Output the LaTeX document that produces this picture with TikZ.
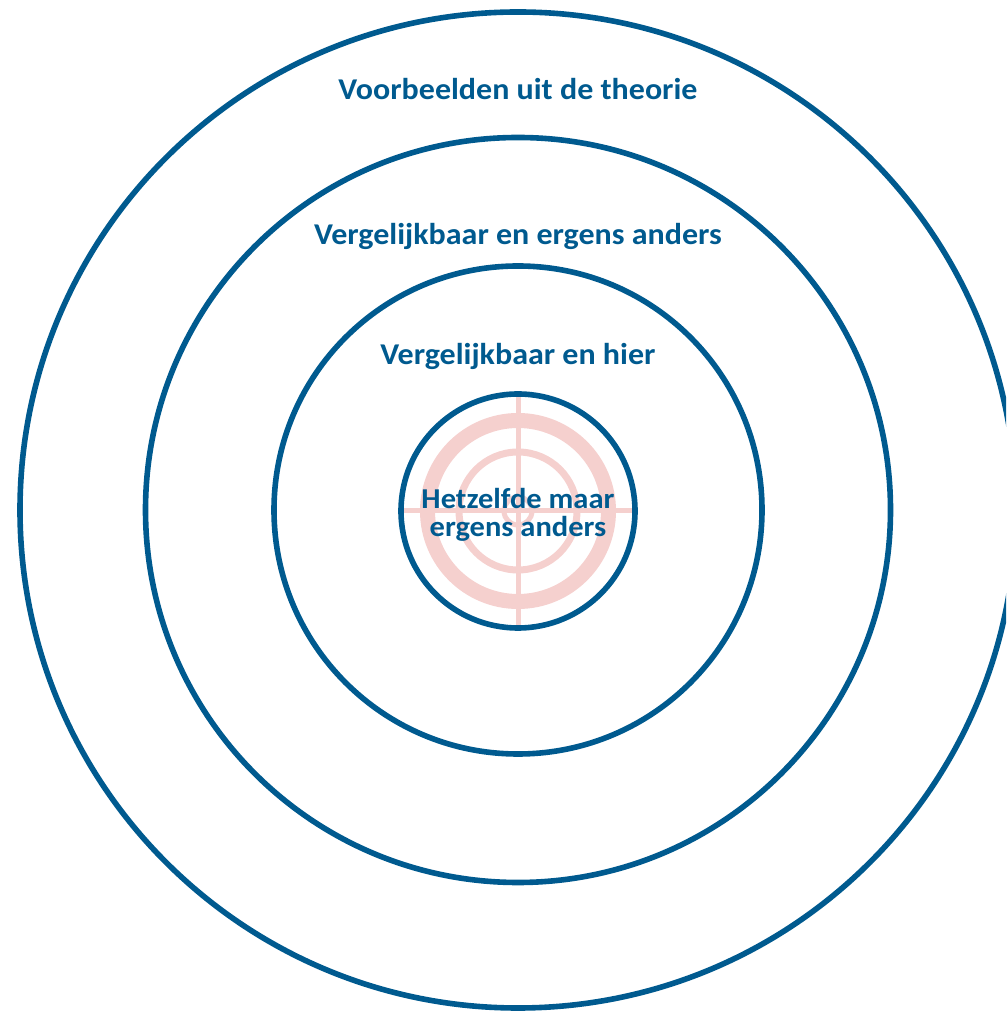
\documentclass[tikz,border=0pt]{standalone}
\usepackage{fontspec}
\usetikzlibrary{calc}
\setmainfont{Carlito}[FakeStretch=1.06]
\definecolor{ringblue}{HTML}{005A8F}
\definecolor{targetpink}{HTML}{F5D0CE}
\begin{document}
\begin{tikzpicture}[x=1pt,y=1pt,
  ring/.style={draw=ringblue,line width=5.6pt},
  target/.style={draw=targetpink},
  label/.style={text=ringblue,font=\fontsize{30.2}{31}\selectfont\bfseries,anchor=base,inner sep=0pt},
  core/.style={label,font=\fontsize{28.8}{29}\selectfont\bfseries}]
  \useasboundingbox (0,0) rectangle (1006,1011);
  \clip (0,0) rectangle (1006,1011);
  \coordinate (c) at (518,501);
  \coordinate (t) at (518,500);
  % target in the centre
  \draw[target,line width=15pt] (t) circle[radius=90.5];
  \draw[target,line width=7pt] (t) circle[radius=59];
  \draw[target,line width=5pt] (t) circle[radius=14];
  \draw[target,line width=5pt] ($(t)+(0,-117)$) -- ($(t)+(0,117)$);
  \draw[target,line width=5pt] ($(t)+(-117,0)$) -- ($(t)+(117,0)$);
  % concentric rings
  \draw[ring] (c) circle[radius=498];
  \draw[ring] (c) circle[radius=372.5];
  \draw[ring] (c) circle[radius=244];
  \draw[ring] (t) circle[radius=117];
  % labels
  \node[label] (l1) at (518,911) {Voorbeelden uit de theorie};
  \node[label] (l2) at (518,766) {Vergelijkbaar en ergens anders};
  \node[label] (l3) at (518,646) {Vergelijkbaar en hier};
  \node[core] (l4a) at (518,502) {Hetzelfde maar};
  \node[core] (l4b) at (518,474) {ergens anders};
\end{tikzpicture}
\end{document}
